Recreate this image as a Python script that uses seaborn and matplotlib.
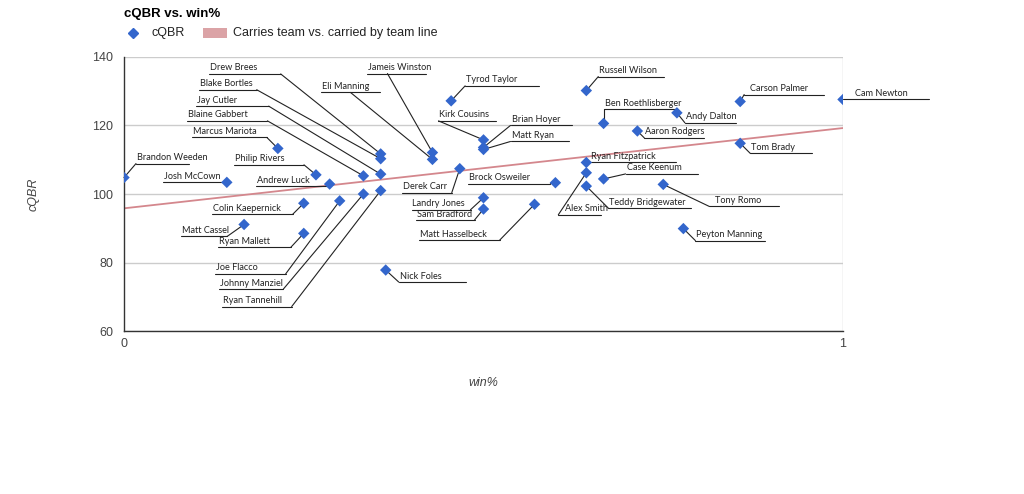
"""
cQBR vs. win% scatter with a linear trend line and leader-line labels.
"""

import matplotlib.pyplot as plt
from matplotlib.lines import Line2D
from matplotlib.patches import Rectangle
import seaborn as sns
import pandas as pd

W, H = 1024, 494

# quarterbacks, win share and cQBR
players = [
    "Drew Brees", "Blake Bortles", "Jay Cutler", "Blaine Gabbert", "Marcus Mariota",
    "Brandon Weeden", "Josh McCown", "Philip Rivers", "Andrew Luck", "Eli Manning",
    "Colin Kaepernick", "Matt Cassel", "Ryan Mallett", "Joe Flacco", "Johnny Manziel",
    "Ryan Tannehill", "Nick Foles", "Jameis Winston", "Tyrod Taylor", "Kirk Cousins",
    "Brian Hoyer", "Matt Ryan", "Derek Carr", "Brock Osweiler", "Landry Jones",
    "Sam Bradford", "Matt Hasselbeck", "Alex Smith", "Russell Wilson", "Ben Roethlisberger",
    "Ryan Fitzpatrick", "Case Keenum", "Teddy Bridgewater", "Tony Romo", "Peyton Manning",
    "Aaron Rodgers", "Andy Dalton", "Carson Palmer", "Tom Brady", "Cam Newton",
]
win_pct = [
    0.357, 0.357, 0.357, 0.333, 0.214,
    0.0, 0.143, 0.267, 0.286, 0.429,
    0.25, 0.167, 0.25, 0.3, 0.333,
    0.357, 0.364, 0.429, 0.455, 0.5,
    0.5, 0.5, 0.467, 0.6, 0.5,
    0.5, 0.571, 0.643, 0.643, 0.667,
    0.643, 0.667, 0.643, 0.75, 0.778,
    0.714, 0.769, 0.857, 0.857, 1.0,
]
cqbr = [
    111.7, 110.3, 105.8, 105.3, 113.3,
    104.8, 103.4, 105.6, 102.9, 110.1,
    97.3, 91.1, 88.5, 98.0, 100.0,
    101.0, 77.8, 112.1, 127.2, 115.8,
    113.6, 113.0, 107.4, 103.3, 98.9,
    95.6, 97.0, 106.2, 130.2, 120.6,
    109.2, 104.4, 102.3, 102.8, 89.9,
    118.4, 123.7, 127.0, 114.8, 127.6,
]

# label layout in pixels relative to the point:
# (underline left, underline right, underline dy, leader join x)
label_layout = {
    "Drew Brees": (-172, -100, -80, -100),
    "Blake Bortles": (-182, -124, -69, -124),
    "Jay Cutler": (-185, -112, -68, -112),
    "Blaine Gabbert": (-176, -96, -55, -96),
    "Marcus Mariota": (-86, -11, -11, -11),
    "Brandon Weeden": (12, 65, -14, 12),
    "Josh McCown": (-64, -3, 0, -3),
    "Philip Rivers": (-82, -12, -10, -12),
    "Andrew Luck": (-74, -1, 2, -1),
    "Eli Manning": (-111, -52, -67, -82),
    "Colin Kaepernick": (-92, -11, 11, -11),
    "Matt Cassel": (-63, -17, 12, -17),
    "Ryan Mallett": (-86, -13, 14, -13),
    "Joe Flacco": (-125, -54, 73, -54),
    "Johnny Manziel": (-144, -80, 95, -80),
    "Ryan Tannehill": (-159, -89, 116, -89),
    "Nick Foles": (13, 80, 12, 13),
    "Jameis Winston": (-65, -6, -79, -45),
    "Tyrod Taylor": (14, 88, -15, 14),
    "Kirk Cousins": (-45, 12, -19, -45),
    "Brian Hoyer": (27, 88, -22, 27),
    "Matt Ryan": (27, 85, -8, 27),
    "Derek Carr": (-58, -8, 24, -8),
    "Brock Osweiler": (-87, -5, 1, -5),
    "Landry Jones": (-72, -13, 12, -13),
    "Sam Bradford": (-67, -9, 11, -9),
    "Matt Hasselbeck": (-116, -35, 36, -35),
    "Alex Smith": (-28, 15, 42, -28),
    "Russell Wilson": (12, 78, -14, 12),
    "Ben Roethlisberger": (0, 71, -14, 0),
    "Ryan Fitzpatrick": (0, 90, 0, 0),
    "Case Keenum": (22, 94, -5, 22),
    "Teddy Bridgewater": (22, 105, 22, 22),
    "Tony Romo": (46, 116, 22, 46),
    "Peyton Manning": (12, 82, 12, 12),
    "Aaron Rodgers": (7, 67, 7, 7),
    "Andy Dalton": (8, 59, 10, 8),
    "Carson Palmer": (4, 84, -7, 4),
    "Tom Brady": (10, 72, 10, 10),
    "Cam Newton": (0, 86, 0, 0),
}
text_pad = {"Cam Newton": 12, "Carson Palmer": 6, "Alex Smith": 7,
            "Tony Romo": 6, "Ryan Fitzpatrick": 5}

sns.set_theme(style="white")
plt.rcParams['font.family'] = ['Liberation Sans', 'DejaVu Sans']
LABEL_FONT = ['Lato', 'DejaVu Sans']

df = pd.DataFrame({"player": players, "win": win_pct, "cqbr": cqbr})

fig = plt.figure(figsize=(W / 100, H / 100), dpi=100)
ax = fig.add_axes([124 / W, (H - 331) / H, 719 / W, 274 / H])

sns.regplot(data=df, x="win", y="cqbr", scatter=False, ci=None, ax=ax,
            line_kws=dict(color="#d4878d", lw=1.3, zorder=2))
sns.scatterplot(data=df, x="win", y="cqbr", marker="D", s=34, color="#3366cc",
                edgecolor="none", ax=ax, zorder=4, legend=False)

ax.set_xlim(0, 1)
ax.set_ylim(60, 140)
ax.set_xticks([0, 1])
ax.set_yticks([60, 80, 100, 120, 140])
ax.grid(axis="y", color="#cccccc", lw=1)
ax.axvline(1, color="#cccccc", lw=1, zorder=0)
for side in ["top", "right"]:
    ax.spines[side].set_visible(False)
for side in ["left", "bottom"]:
    ax.spines[side].set_color("#333333")
    ax.spines[side].set_linewidth(1)
ax.tick_params(length=0, labelsize=9, colors="#444444")
ax.tick_params(axis="y", pad=8)
ax.tick_params(axis="x", pad=5)

ax.set_xlabel("win%", style="italic", color="#444444", fontsize=9)
ax.set_ylabel("cQBR", style="italic", color="#444444", fontsize=9)
ax.xaxis.set_label_coords(0.5, -0.168)
ax.yaxis.set_label_coords(-0.118, 0.5)

to_disp = ax.transData.transform
to_data = ax.transData.inverted().transform


def img2data(px, py):
    return to_data((px, H - py))


for name, x, y in zip(players, win_pct, cqbr):
    dx0, dx1, dy, dj = label_layout[name]
    px, pyd = to_disp((x, y))
    py = H - pyd
    uy = py + dy
    a = img2data(px + dx0, uy)
    b = img2data(px + dx1, uy)
    j = img2data(px + dj, uy)
    ax.plot([a[0], b[0]], [a[1], b[1]], color="#222222", lw=0.8,
            clip_on=False, zorder=3)
    ax.plot([j[0], x], [j[1], y], color="#222222", lw=0.8,
            clip_on=False, zorder=3)
    t = img2data(px + dx0 + text_pad.get(name, 1), uy - 1.5)
    ax.text(t[0], t[1], name, ha="left", va="bottom", fontsize=6.6,
            family=LABEL_FONT, color="#222222", clip_on=False, zorder=5)

# title and legend
fig.text(124 / W, 1 - 14 / H, "cQBR vs. win%", fontsize=9.5, fontweight="bold",
         color="#000000", ha="left", va="center")
fig.add_artist(Line2D([133 / W], [1 - 33 / H], marker="D", markersize=5.5,
                      color="#3366cc", lw=0, transform=fig.transFigure))
fig.text(152 / W, 1 - 33 / H, "cQBR", fontsize=9, color="#222222",
         ha="left", va="center")
fig.add_artist(Rectangle((203 / W, 1 - 38 / H), 24 / W, 10 / H,
                         transform=fig.transFigure, color="#dba3a6", lw=0))
fig.text(233 / W, 1 - 33 / H, "Carries team vs. carried by team line",
         fontsize=9, color="#222222", ha="left", va="center")

fig.savefig("out.png", dpi=100)
plt.close(fig)
